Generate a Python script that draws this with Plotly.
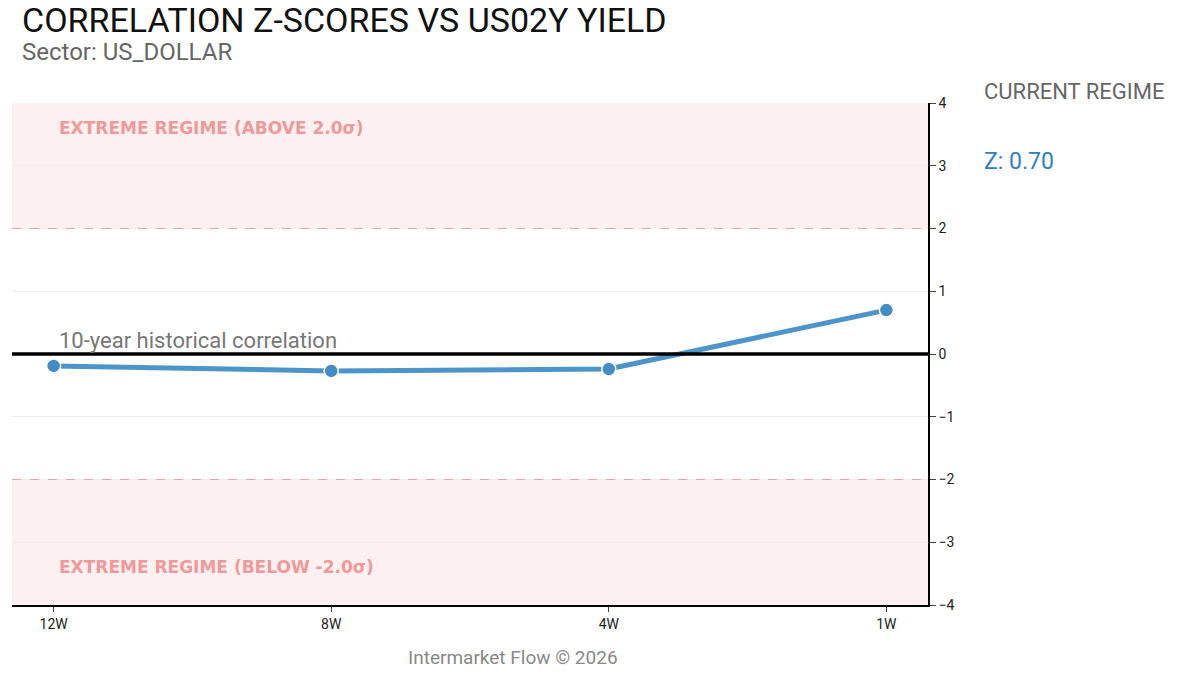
import plotly.graph_objects as go

categories = ["12W", "8W", "4W", "1W"]
zscores = [-0.19, -0.27, -0.24, 0.70]
tick_vals = [-4, -3, -2, -1, 0, 1, 2, 3, 4]
tick_text = ["−4", "−3", "−2", "−1", "0", "1", "2", "3", "4"]

L, R, T, B = 4, 280, 95, 78
W, H = 1200, 675
xs = list(range(len(categories)))
fig = go.Figure()
fig.add_hrect(y0=2, y1=4, fillcolor="rgba(240,180,180,0.2)", line_width=0, layer="below")
fig.add_hrect(y0=-4, y1=-2, fillcolor="rgba(240,180,180,0.2)", line_width=0, layer="below")
for yv in (2, -2):
    fig.add_hline(y=yv, line=dict(color="rgba(220,150,150,0.8)", width=1, dash="dash"))
fig.add_hline(y=0, line=dict(color="black", width=3.5))
fig.add_trace(go.Scatter(x=xs, y=zscores, mode="lines+markers",
    line=dict(color="#3a8ac4", width=5),
    marker=dict(size=14, color="#2f80c0", line=dict(color="white", width=1.5)),
    opacity=0.9, showlegend=False))

fig.update_layout(
    width=W, height=H, plot_bgcolor="white", paper_bgcolor="white",
    font=dict(family="Roboto", color="#333"),
    margin=dict(l=L, r=R, t=T, b=B),
    xaxis=dict(tickmode="array", tickvals=xs, ticktext=categories, range=[-0.15, 3.15],
               showgrid=False, zeroline=False, showline=True, linecolor="black", linewidth=1.5,
               ticks="outside", ticklen=5, tickfont=dict(size=14, color="#222")),
    yaxis=dict(side="right", range=[-4, 4], tickvals=tick_vals, ticktext=tick_text,
               showgrid=True, gridcolor="#eeeeee", zeroline=False, showline=True,
               linecolor="black", linewidth=1.5, ticks="outside", ticklen=6,
               tickfont=dict(size=14, color="#222")),
)
pw, ph = W - L - R, H - T - B
def px(x): return (x - 8 - L) / pw
def py(y): return (H - B - (y - 8)) / ph
anns = [
    ("CORRELATION Z-SCORES VS US02Y YIELD", 20, 20, 34, "#111", "left"),
    ("Sector: US_DOLLAR", 20, 52, 24, "#666", "left"),
    ("CURRENT REGIME", 982, 91, 22, "#666", "left"),
    ("Z: 0.70", 982, 161, 23, "#2f80c0", "left"),
    ("Intermarket Flow © 2026", 513, 657, 19, "#888", "center"),
]
for text, x, y, size, color, xa in anns:
    fig.add_annotation(text=text, xref="paper", yref="paper", x=px(x), y=py(y),
                       showarrow=False, xanchor=xa, yanchor="middle",
                       font=dict(size=size, color=color, family="Roboto"))
fig.add_annotation(text="<b>EXTREME REGIME (ABOVE 2.0σ)</b>", x=-0.15, y=3.6, xshift=45, showarrow=False,
                   xanchor="left", font=dict(size=17, color="#ee9a9a", family="DejaVu Sans"))
fig.add_annotation(text="<b>EXTREME REGIME (BELOW -2.0σ)</b>", x=-0.15, y=-3.4, xshift=45, showarrow=False,
                   xanchor="left", font=dict(size=17, color="#ee9a9a", family="DejaVu Sans"))
fig.add_annotation(text="10-year historical correlation", x=-0.15, y=0.22, xshift=45, showarrow=False,
                   xanchor="left", font=dict(size=22, color="#777", family="Roboto"))
fig.write_html("out.html")
